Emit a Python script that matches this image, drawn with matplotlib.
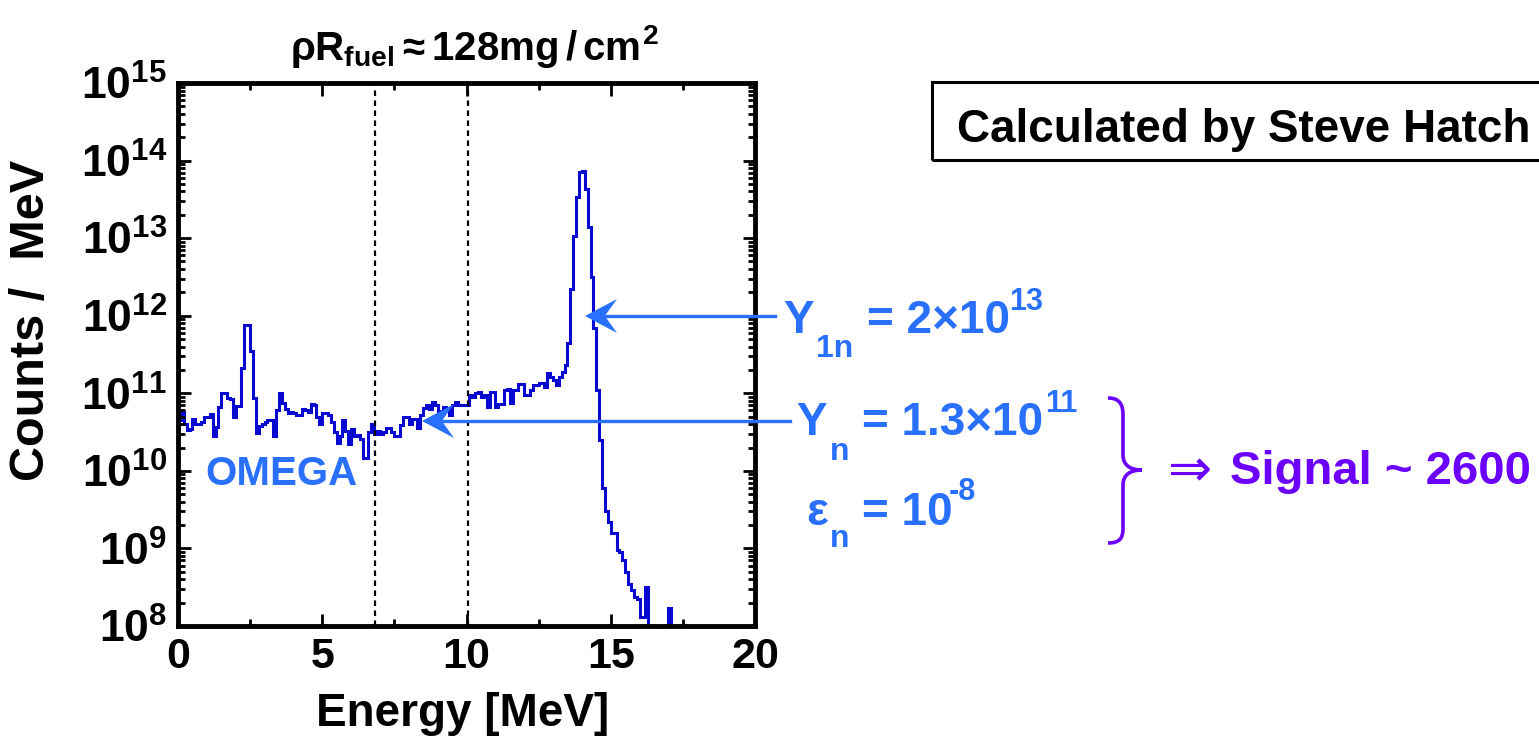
import numpy as np
import matplotlib
matplotlib.use("Agg")
import matplotlib.pyplot as plt
from matplotlib.ticker import MultipleLocator, LogLocator, FuncFormatter, NullFormatter
from matplotlib.patches import Polygon, Rectangle, PathPatch
from matplotlib.path import Path
from matplotlib.lines import Line2D

# neutron spectrum, 0.1 MeV bins starting at 0 MeV (counts / MeV)
bin_width = 0.1
counts = np.array([
    4.5e10, 5.8e10, 4.0e10, 3.4e10, 3.5e10, 4.6e10, 4.0e10, 4.0e10, 4.3e10, 4.9e10,
    4.9e10, 5.4e10, 2.8e10, 3.7e10, 6.6e10, 1.0e11, 1.0e11, 8.7e10, 8.5e10, 5.0e10,
    6.9e10, 6.9e10, 2.1e11, 7.6e11, 7.6e11, 3.5e11, 8.7e10, 3.1e10, 3.8e10, 4.0e10,
    4.3e10, 4.5e10, 4.5e10, 2.8e10, 6.0e10, 1.0e11, 7.6e10, 6.3e10, 5.6e10, 5.8e10,
    5.6e10, 5.2e10, 5.2e10, 6.3e10, 6.0e10, 5.8e10, 7.2e10, 7.1e10, 5.0e10, 4.0e10,
    5.6e10, 5.6e10, 5.2e10, 4.3e10, 3.2e10, 2.3e10, 2.8e10, 4.5e10, 3.3e10, 2.2e10,
    3.5e10, 2.8e10, 2.9e10, 2.6e10, 1.45e10, 1.45e10, 3.2e10, 4.0e10, 3.0e10, 3.3e10,
    3.0e10, 3.2e10, 3.6e10, 3.6e10, 3.2e10, 2.8e10, 2.8e10, 3.9e10, 5.0e10, 5.0e10,
    4.0e10, 4.6e10, 4.6e10, 3.6e10, 5.2e10, 6.5e10, 7.1e10, 6.3e10, 7.8e10, 7.1e10,
    5.9e10, 5.9e10, 6.6e10, 6.3e10, 5.2e10, 7.1e10, 7.8e10, 7.1e10, 7.1e10, 7.1e10,
    7.1e10, 9.5e10, 8.9e10, 1.0e11, 1.05e11, 8.9e10, 9.5e10, 6.6e10, 1.05e11, 1.05e11,
    6.6e10, 7.2e10, 7.2e10, 1.1e11, 1.12e11, 7.6e10, 1.1e11, 1.1e11, 1.32e11, 1.32e11,
    9.5e10, 9.5e10, 1.1e11, 1.26e11, 1.26e11, 1.35e11, 1.35e11, 1.2e11, 1.82e11, 1.6e11,
    1.48e11, 1.26e11, 1.62e11, 1.9e11, 2.3e11, 4.5e11, 2.2e12, 1.05e13, 3.4e13, 7.2e13,
    7.4e13, 4.3e13, 1.4e13, 3.2e12, 6.9e11, 1.1e11, 2.5e10, 6.0e9, 3.0e9, 2.2e9,
    1.6e9, 1.6e9, 9.5e8, 8.9e8, 7.1e8, 5.0e8, 3.5e8, 2.9e8, 2.4e8, 2.2e8,
    1.3e8, 1.3e8, 3.2e8, 0, 0, 0, 0, 0, 0, 0,
    1.7e8, 0,
])
window_lines = [6.83, 10.05]

W, H = 1539, 737
BLUE = "#2970ff"
PURPLE = "#6b00ff"
LINE = "#0808d0"

plt.rcParams.update({
    "font.family": ["Liberation Sans", "DejaVu Sans"],
    "font.weight": "bold",
    "mathtext.fontset": "custom",
    "mathtext.rm": "Liberation Sans:bold",
    "mathtext.bf": "Liberation Sans:bold",
    "mathtext.it": "Liberation Sans:bold",
    "mathtext.sf": "Liberation Sans:bold",
})


def fx(x, y):
    # reference pixel (from top-left) -> figure fraction
    return x / W, 1 - y / H


fig = plt.figure(figsize=(W / 100, H / 100), dpi=100)
ax = fig.add_axes([178 / W, 1 - 626 / H, (755 - 178) / W, (626 - 83) / H])

edges = np.arange(len(counts) + 1) * bin_width
ax.stairs(np.where(counts > 0, counts, 1e6), edges, baseline=None, color=LINE, lw=2.2)
for e in window_lines:
    ax.axvline(e, color="black", lw=1.6, linestyle=(0, (2.5, 2.0)))

ax.set_yscale("log")
ax.set_xlim(0, 20)
ax.set_ylim(1e8, 1e15)
ax.xaxis.set_major_locator(MultipleLocator(5))
ax.xaxis.set_minor_locator(MultipleLocator(2.5))
ax.yaxis.set_major_locator(LogLocator(base=10, numticks=20))
ax.yaxis.set_minor_locator(LogLocator(base=10, subs=np.arange(2, 10), numticks=20))
ax.yaxis.set_minor_formatter(NullFormatter())
ax.yaxis.set_major_formatter(FuncFormatter(lambda v, p: r"$10^{%d}$" % round(np.log10(v))))
ax.tick_params(which="both", direction="in", top=True, right=True, width=2)
ax.tick_params(which="major", length=9, pad=8)
ax.tick_params(which="minor", length=5)
ax.tick_params(axis="y", which="major", labelsize=32)
ax.tick_params(axis="x", which="major", labelsize=31)
for lab in ax.get_xticklabels():
    lab.set_fontweight("bold")
for sp in ax.spines.values():
    sp.set_linewidth(3.5)

# in-axes label
fig.text(*fx(205, 485), "OMEGA", color=BLUE, fontsize=29, fontweight="bold",
         ha="left", va="baseline")

# axis labels and title
fig.text(*fx(463, 726), "Energy [MeV]", fontsize=33, fontweight="bold",
         ha="center", va="baseline")
fig.text(*fx(32, 320), "Counts /  MeV", fontsize=35, fontweight="bold",
         rotation=90, ha="center", va="center")
fig.text(*fx(474, 60), r"$\rho R_{fuel}\approx 128mg\,/\,cm^{2}$", fontsize=29,
         ha="center", va="baseline")

# boxed credit (runs off the right edge, as in the original)
fig.add_artist(Rectangle(fx(932, 160), 700 / W, (160 - 82) / H,
                         transform=fig.transFigure, fill=False, lw=2.2,
                         edgecolor="black"))
fig.text(*fx(957, 142), "Calculated by Steve Hatch", fontsize=33,
         fontweight="bold", ha="left", va="baseline")


def piece(x, y, s, size, color=BLUE):
    fig.text(*fx(x, y), s, fontsize=size, color=color, fontweight="bold",
             ha="left", va="baseline")


# Y_1n = 2x10^13
piece(783, 333, "Y", 33)
piece(816, 357, "1n", 23)
piece(867, 333, "= 2\u00d710", 33)
piece(1009, 310, "13", 22)
# Y_n = 1.3x10^11
piece(796, 435, "Y", 33)
piece(830, 460, "n", 23)
piece(862, 435, "= 1.3\u00d710", 33)
piece(1045, 412, "11", 22)
# eps_n = 10^-8
piece(806, 525, "\u03b5", 33)
piece(830, 547, "n", 23)
piece(862, 525, "= 10", 33)
piece(949, 500, "-8", 22)


def arrow(x0, x1, y, L=32, Wd=34):
    fig.add_artist(Line2D([x0 / W, (x1 + 10) / W], [1 - y / H] * 2,
                          transform=fig.transFigure, color=BLUE, lw=2.4))
    pts = [fx(x1, y), fx(x1 + L, y - Wd / 2), fx(x1 + 0.62 * L, y), fx(x1 + L, y + Wd / 2)]
    fig.add_artist(Polygon(pts, closed=True, transform=fig.transFigure,
                           facecolor=BLUE, edgecolor="none"))


arrow(775, 585, 316)
arrow(790, 422, 421)

# brace and result
verts = [(1108, 398), (1120, 398), (1123, 405), (1123, 415), (1123, 455),
         (1123, 465), (1130, 470), (1142, 470),
         (1130, 470), (1123, 475), (1123, 485), (1123, 528),
         (1123, 538), (1120, 543), (1108, 543)]
codes = [Path.MOVETO, Path.CURVE4, Path.CURVE4, Path.CURVE4, Path.LINETO,
         Path.CURVE4, Path.CURVE4, Path.CURVE4,
         Path.CURVE4, Path.CURVE4, Path.CURVE4, Path.LINETO,
         Path.CURVE4, Path.CURVE4, Path.CURVE4]
fig.add_artist(PathPatch(Path([fx(*v) for v in verts], codes), transform=fig.transFigure,
                         fill=False, edgecolor=PURPLE, lw=2.6))
fig.text(*fx(1168, 486), "\u21d2", fontsize=38, color=PURPLE,
         family=["DejaVu Sans"], fontweight="normal", ha="left", va="baseline")
piece(1230, 484, "Signal ~ 2600", 34, color=PURPLE)

fig.savefig("out.png", dpi=100)
